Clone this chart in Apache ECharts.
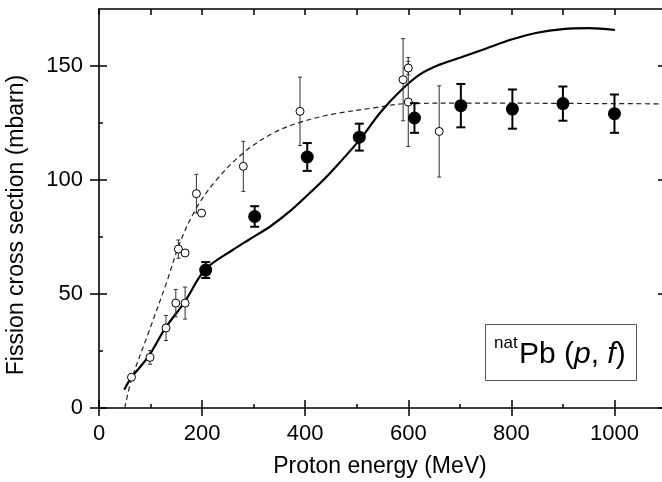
<!DOCTYPE html>
<html>
<head>
<meta charset="utf-8">
<script src="https://cdn.jsdelivr.net/npm/echarts@6/dist/echarts.min.js"></script>
<style>html,body{margin:0;padding:0;background:#fff;}#c{width:662px;height:482px;}</style>
</head>
<body>
<div id="c"></div>
<script>
// ---- data ----
const xTickLabels = [0, 200, 400, 600, 800, 1000];
const xMinorTicks = [100, 300, 500, 700, 900];
const xTopTicks = [0, 100, 200, 300, 400, 500, 600, 700, 800, 900, 1000];
const yTickLabels = [0, 50, 100, 150];
const yMinorTicks = [25, 75, 125];

// this work (filled circles)
const energyFilled = [207, 302, 404, 505, 612, 702, 802, 900, 1000];
const sigmaFilled  = [60.5, 84.0, 110.1, 118.8, 127.2, 132.6, 131.1, 133.5, 129.1];
const errFilled    = [3.5, 4.5, 6.1, 5.9, 6.5, 9.5, 8.6, 7.5, 8.4];

// other data (open circles)
const energyOpen = [63, 99, 130, 149, 167, 154, 167, 189, 199, 280, 390, 590, 600, 600, 660];
const sigmaOpen  = [13.5, 22.2, 35.1, 46.0, 46.0, 69.7, 68.0, 94.0, 85.5, 106.0, 130.1, 144.0, 149.1, 134.2, 121.3];
const errOpen    = [0, 3, 5.5, 6, 7, 4, 0, 8.5, 0, 11, 15, 18, 3, 19.5, 20];

// solid curve
const solidX = [49, 63, 96, 129, 167, 206, 260, 293, 332, 370, 409, 448, 506, 545, 584, 622, 661, 700, 750, 800, 850, 900, 950, 1001];
const solidY = [8.0, 13.4, 22.6, 35.1, 46.8, 60.7, 69.4, 74.1, 79.6, 86.2, 94.3, 103.0, 117.7, 129.4, 138.9, 146.2, 150.6, 153.6, 157.6, 161.6, 164.6, 166.2, 166.6, 165.8];

// dashed curve
const dashX = [50, 63, 96, 131, 157, 189, 228, 281, 338, 390, 454, 532, 597, 700, 800, 900, 1000, 1100];
const dashY = [0, 12.4, 33, 55, 72.5, 87.7, 100.1, 112.1, 120.6, 125.3, 128.9, 131.6, 133.5, 133.7, 133.7, 133.6, 133.5, 133.4];

const FONT = '"Liberation Sans", Arial, Helvetica, sans-serif';

function pairs(xs, ys) { return xs.map((x, i) => [x, ys[i]]); }
function triples(xs, ys, es) { return xs.map((x, i) => [x, ys[i], es[i]]); }

function errRender(lw, cap, color) {
  return function (params, api) {
    const x = api.value(0), y = api.value(1), e = api.value(2);
    if (!e) return;
    const t = api.coord([x, y + e]);
    const b = api.coord([x, y - e]);
    const st = { stroke: color, lineWidth: lw };
    return {
      type: 'group',
      children: [
        { type: 'line', shape: { x1: t[0], y1: t[1], x2: b[0], y2: b[1] }, style: st },
        { type: 'line', shape: { x1: t[0] - cap, y1: t[1], x2: t[0] + cap, y2: t[1] }, style: st },
        { type: 'line', shape: { x1: b[0] - cap, y1: b[1], x2: b[0] + cap, y2: b[1] }, style: st }
      ]
    };
  };
}

const baseX = { type: 'value', min: 0, max: 1100, splitLine: { show: false } };
const baseY = { type: 'value', min: 0, max: 175, splitLine: { show: false } };
const axLine = { show: true, onZero: false, lineStyle: { color: '#000', width: 1.6 } };
const noLine = { show: false, onZero: false };
const tickStyle = { color: '#000', width: 1.5 };
const plainFmt = v => String(v);

const chart = echarts.init(document.getElementById('c'), null, { renderer: 'canvas' });
chart.setOption({
  animation: false,
  backgroundColor: '#fff',
  grid: { left: 99, top: 9, width: 567, height: 399, containLabel: false, outerBoundsMode: 'none' },
  xAxis: [
    Object.assign({}, baseX, { position: 'bottom', axisLine: axLine,
      axisTick: { show: true, inside: true, length: 8, customValues: xTickLabels, lineStyle: tickStyle },
      axisLabel: { show: true, customValues: xTickLabels, formatter: plainFmt, fontSize: 22, fontFamily: FONT, color: '#000', margin: 15 } }),
    Object.assign({}, baseX, { position: 'bottom', axisLine: noLine,
      axisTick: { show: true, inside: false, length: 8, customValues: xTickLabels, lineStyle: tickStyle },
      axisLabel: { show: false } }),
    Object.assign({}, baseX, { position: 'bottom', axisLine: noLine,
      axisTick: { show: true, inside: true, length: 4, customValues: xMinorTicks, lineStyle: tickStyle },
      axisLabel: { show: false } }),
    Object.assign({}, baseX, { position: 'top', axisLine: axLine,
      axisTick: { show: true, inside: true, length: 6, customValues: xTopTicks, lineStyle: tickStyle },
      axisLabel: { show: false } })
  ],
  yAxis: [
    Object.assign({}, baseY, { position: 'left', axisLine: axLine,
      axisTick: { show: true, inside: true, length: 8, customValues: yTickLabels, lineStyle: tickStyle },
      axisLabel: { show: true, customValues: yTickLabels, formatter: plainFmt, fontSize: 22, fontFamily: FONT, color: '#000', margin: 16 } }),
    Object.assign({}, baseY, { position: 'left', axisLine: noLine,
      axisTick: { show: true, inside: false, length: 9, customValues: yTickLabels, lineStyle: tickStyle },
      axisLabel: { show: false } }),
    Object.assign({}, baseY, { position: 'left', axisLine: noLine,
      axisTick: { show: true, inside: true, length: 4, customValues: yMinorTicks, lineStyle: tickStyle },
      axisLabel: { show: false } }),
    Object.assign({}, baseY, { position: 'right', axisLine: noLine,
      axisTick: { show: true, inside: true, length: 8, customValues: yTickLabels, lineStyle: tickStyle },
      axisLabel: { show: false } })
  ],
  series: [
    { type: 'line', data: pairs(dashX, dashY), showSymbol: false, smooth: 0.35,
      lineStyle: { color: '#222', width: 1.2, type: [5, 3.5] }, z: 2, silent: true },
    { type: 'line', data: pairs(solidX, solidY), showSymbol: false, smooth: 0.35,
      lineStyle: { color: '#000', width: 2.2 }, z: 3, silent: true },
    { type: 'custom', data: triples(energyOpen, sigmaOpen, errOpen), encode: { x: 0, y: 1 },
      renderItem: errRender(1, 2, '#333'), z: 4, silent: true },
    { type: 'scatter', data: pairs(energyOpen, sigmaOpen), symbol: 'circle', symbolSize: 8,
      itemStyle: { color: '#fff', borderColor: '#000', borderWidth: 1, opacity: 1 }, z: 5, silent: true },
    { type: 'custom', data: triples(energyFilled, sigmaFilled, errFilled), encode: { x: 0, y: 1 },
      renderItem: errRender(2, 4.5, '#000'), z: 6, silent: true },
    { type: 'scatter', data: pairs(energyFilled, sigmaFilled), symbol: 'circle', symbolSize: 13,
      itemStyle: { color: '#000', opacity: 1 }, z: 7, silent: true }
  ],
  graphic: [
    { type: 'text', x: 380, y: 467, style: { text: 'Proton energy (MeV)', font: '23px ' + FONT, fill: '#000', align: 'center', verticalAlign: 'middle' } },
    { type: 'text', x: 17, y: 225, rotation: Math.PI / 2, style: { text: 'Fission cross section (mbarn)', font: '23px ' + FONT, fill: '#000', align: 'center', verticalAlign: 'middle' } },
    { type: 'rect', shape: { x: 485.5, y: 324.5, width: 151, height: 56 }, style: { fill: '#fff', stroke: '#555', lineWidth: 1 }, z: 10 },
    { type: 'text', x: 494, y: 343, z: 11, style: { text: 'nat', font: '17px ' + FONT, fill: '#000', align: 'left', verticalAlign: 'middle' } },
    { type: 'text', x: 519, y: 355, z: 11, style: {
        text: '{a|Pb (}{i|p}{a|, }{i|f}{a|)}', align: 'left', verticalAlign: 'middle',
        rich: { a: { fontSize: 30, fontFamily: FONT, fill: '#000' }, i: { fontSize: 30, fontFamily: FONT, fontStyle: 'italic', fill: '#000' } } } }
  ]
});
</script>
</body>
</html>
